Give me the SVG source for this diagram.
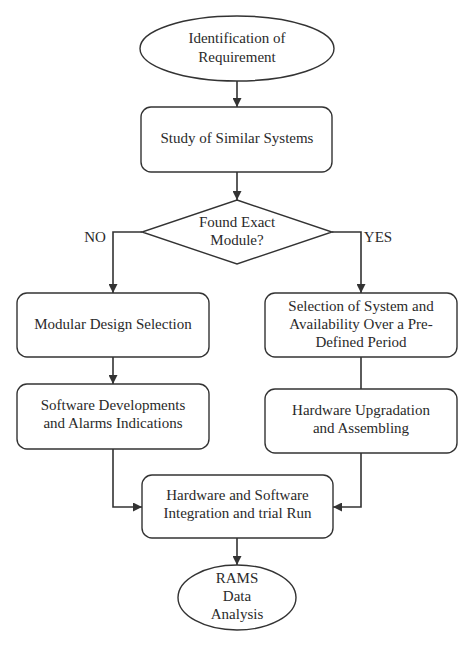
<svg xmlns="http://www.w3.org/2000/svg" width="474" height="647" viewBox="0 0 474 647">
<defs>
<style>
.n{fill:#fff;stroke:#333;stroke-width:1.4}
.t{font-family:"Liberation Serif","Times New Roman",serif;font-size:15px;fill:#2a2a2a;text-anchor:middle}
.c{fill:none;stroke:#333;stroke-width:1.6}
</style>
<marker id="ah" viewBox="0 0 10 10" refX="10" refY="5" markerWidth="9" markerHeight="9" markerUnits="userSpaceOnUse" orient="auto">
<path d="M0,0 L10,5 L0,10 z" fill="#333"/>
</marker>
</defs>
<rect width="474" height="647" fill="#fff"/>
<g id="connectors">
<path class="c" d="M237,81 V107" marker-end="url(#ah)"/>
<path class="c" d="M237,172 V200" marker-end="url(#ah)"/>
<path class="c" d="M142,232 H113 V293" marker-end="url(#ah)"/>
<path class="c" d="M332,232 H361 V293" marker-end="url(#ah)"/>
<path class="c" d="M113,357 V384" marker-end="url(#ah)"/>
<path class="c" d="M361,357 V389"/>
<path class="c" d="M113,449 V507 H142" marker-end="url(#ah)"/>
<path class="c" d="M361,453 V507 H333" marker-end="url(#ah)"/>
<path class="c" d="M237,538 V565" marker-end="url(#ah)"/>
<text class="t" x="95" y="242">NO</text>
<text class="t" x="378" y="242">YES</text>
</g>
<g id="start">
<ellipse class="n" cx="237" cy="48.5" rx="97" ry="32.5"/>
<text class="t" x="237" y="43">Identification of</text>
<text class="t" x="237" y="62">Requirement</text>
</g>
<g id="study">
<rect class="n" x="141" y="107" width="191" height="65" rx="10"/>
<text class="t" x="237" y="143">Study of Similar Systems</text>
</g>
<g id="decision">
<polygon class="n" points="237,200 332,232 237,264 142,232"/>
<text class="t" x="237" y="227">Found Exact</text>
<text class="t" x="237" y="245">Module?</text>
</g>
<g id="modular">
<rect class="n" x="17" y="293" width="192" height="64" rx="10"/>
<text class="t" x="113" y="329">Modular Design Selection</text>
</g>
<g id="selection">
<rect class="n" x="265" y="293" width="192" height="64" rx="10"/>
<text class="t" x="361" y="311">Selection of System and</text>
<text class="t" x="361" y="329">Availability Over a Pre-</text>
<text class="t" x="361" y="347">Defined Period</text>
</g>
<g id="software">
<rect class="n" x="17" y="384" width="192" height="65" rx="10"/>
<text class="t" x="113" y="410">Software Developments</text>
<text class="t" x="113" y="428">and Alarms Indications</text>
</g>
<g id="hardware">
<rect class="n" x="265" y="389" width="192" height="64" rx="10"/>
<text class="t" x="361" y="415">Hardware Upgradation</text>
<text class="t" x="361" y="433">and Assembling</text>
</g>
<g id="integration">
<rect class="n" x="142" y="475" width="191" height="63" rx="10"/>
<text class="t" x="237.5" y="500">Hardware and Software</text>
<text class="t" x="237.5" y="518">Integration and trial Run</text>
</g>
<g id="end">
<ellipse class="n" cx="237" cy="597.5" rx="59" ry="32.5"/>
<text class="t" x="237" y="583">RAMS</text>
<text class="t" x="237" y="601">Data</text>
<text class="t" x="237" y="619">Analysis</text>
</g>
</svg>
